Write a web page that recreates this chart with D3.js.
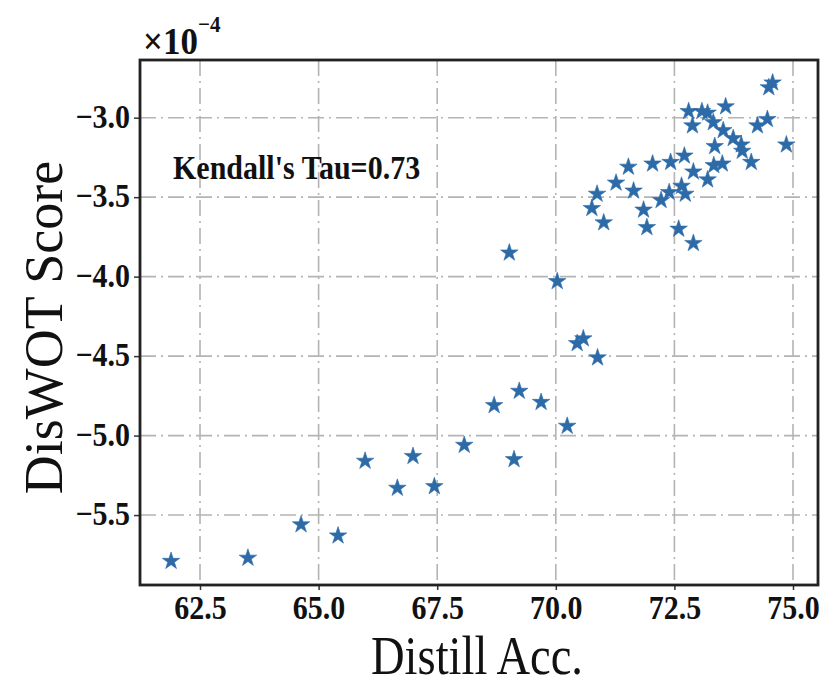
<!DOCTYPE html>
<html>
<head>
<meta charset="utf-8">
<script src="https://cdn.jsdelivr.net/npm/d3@7"></script>
<style>
  body { margin: 0; background: #fff; }
  text { font-family: "Liberation Serif", "Times New Roman", serif; }
</style>
</head>
<body>
<svg id="chart"></svg>
<script>
// distill accuracy (x) and DisWOT score in units of 1e-4 (y)
const distillAcc = [
  61.89, 63.51, 64.63, 65.41, 65.98, 66.66, 66.99, 67.44, 68.07, 68.70,
  69.23, 69.69, 69.12, 70.24, 69.02, 70.03, 70.45, 70.58, 70.88,
  70.76, 70.87, 71.01, 71.27, 71.53, 71.64, 71.85, 71.92, 72.04, 72.22,
  72.39, 72.65, 72.73, 72.42, 72.71, 72.59, 72.90, 72.90, 72.80, 72.88,
  73.20, 73.32, 73.58, 73.35, 73.33, 73.51, 73.20, 73.53, 73.74, 73.91,
  73.93, 74.12, 74.25, 74.46, 74.49, 74.57, 74.86, 73.08
];
const diswotScore = [
  -5.79, -5.77, -5.56, -5.63, -5.16, -5.33, -5.13, -5.32, -5.06, -4.81,
  -4.72, -4.79, -5.15, -4.94, -3.85, -4.03, -4.42, -4.39, -4.51,
  -3.57, -3.48, -3.66, -3.41, -3.31, -3.46, -3.58, -3.69, -3.29, -3.52,
  -3.47, -3.43, -3.48, -3.28, -3.24, -3.70, -3.79, -3.34, -2.96, -3.05,
  -2.97, -3.03, -2.93, -3.18, -3.30, -3.29, -3.39, -3.08, -3.13, -3.17,
  -3.21, -3.28, -3.05, -3.01, -2.81, -2.78, -3.17, -2.96
];
const xTicks = [62.5, 65.0, 67.5, 70.0, 72.5, 75.0];
const yTicks = [-3.0, -3.5, -4.0, -4.5, -5.0, -5.5];
const tauLabel = "Kendall's Tau=0.73";

const width = 833, height = 686;
const margin = { top: 60, right: 15, bottom: 101, left: 140 };
const innerW = width - margin.left - margin.right;
const innerH = height - margin.top - margin.bottom;

const svg = d3.select("#chart").attr("width", width).attr("height", height);

const x = d3.scaleLinear().domain([61.235, 75.527]).range([0, innerW]);
const y = d3.scaleLinear().domain([-5.94, -2.637]).range([innerH, 0]);

const g = svg.append("g").attr("transform", "translate(" + margin.left + "," + margin.top + ")");

const fmt = function(d) { return d3.format(".1f")(d).replace("-", "\u2212"); };

// grid (dash-dot)
g.append("g").selectAll("line")
  .data(xTicks)
  .enter().append("line")
    .attr("x1", x).attr("x2", x)
    .attr("y1", 0).attr("y2", innerH)
    .attr("stroke", "#b4b4b4")
    .attr("stroke-width", 1.6)
    .attr("stroke-dasharray", "16,5,2,5");

g.append("g").selectAll("line")
  .data(yTicks)
  .enter().append("line")
    .attr("y1", y).attr("y2", y)
    .attr("x1", 0).attr("x2", innerW)
    .attr("stroke", "#b4b4b4")
    .attr("stroke-width", 1.6)
    .attr("stroke-dasharray", "16,5,2,5");

// axes
const xAxis = g.append("g")
  .attr("transform", "translate(0," + innerH + ")")
  .call(d3.axisBottom(x).tickValues(xTicks).tickFormat(fmt).tickSize(5).tickPadding(4));
const yAxis = g.append("g")
  .call(d3.axisLeft(y).tickValues(yTicks).tickFormat(fmt).tickSize(6).tickPadding(4));

[xAxis, yAxis].forEach(function(a) {
  a.select(".domain").remove();
  a.selectAll(".tick line").attr("stroke", "#333").attr("stroke-width", 1.5);
  a.selectAll(".tick text")
    .attr("fill", "#111")
    .attr("font-family", "Liberation Serif")
    .attr("font-weight", "bold")
    .attr("font-size", 30)
    .attr("transform", "scale(1,1.12)");
});
yAxis.selectAll(".tick text").attr("dy", "0.28em");

// points
g.append("g").selectAll("path")
  .data(distillAcc.map(function(d, i) { return [d, diswotScore[i]]; }))
  .enter().append("path")
    .attr("transform", function(d) { return "translate(" + x(d[0]) + "," + y(d[1]) + ")"; })
    .attr("d", d3.symbol().type(d3.symbolStar).size(95))
    .attr("fill", "#2d6ba8")
    .attr("stroke", "#2d6ba8")
    .attr("stroke-width", 0.6);

// frame
g.append("rect")
  .attr("width", innerW).attr("height", innerH)
  .attr("fill", "none")
  .attr("stroke", "#222")
  .attr("stroke-width", 2.8);

// annotation
g.append("text")
  .attr("transform", "translate(33,119)scale(1,1.12)")
  .attr("font-weight", "bold")
  .attr("font-size", 30)
  .attr("fill", "#111")
  .text(tauLabel);

// offset label
const off = svg.append("text")
  .attr("transform", "translate(143,54)scale(1,1.1)")
  .attr("font-weight", "bold")
  .attr("fill", "#111");
off.append("tspan").attr("font-size", 35).text("\u00d710");
off.append("tspan").attr("font-size", 21).attr("dy", -20).text("\u22124");

// axis titles
svg.append("text")
  .attr("transform", "translate(" + (margin.left + innerW / 2 - 2) + ",674)scale(0.97,1.15)")
  .attr("text-anchor", "middle")
  .attr("font-size", 48)
  .attr("fill", "#111")
  .text("Distill Acc.");

svg.append("text")
  .attr("transform", "translate(62," + (margin.top + innerH / 2 + 5) + ")rotate(-90)")
  .attr("text-anchor", "middle")
  .attr("font-size", 54)
  .attr("fill", "#111")
  .text("DisWOT Score");
</script>
</body>
</html>
